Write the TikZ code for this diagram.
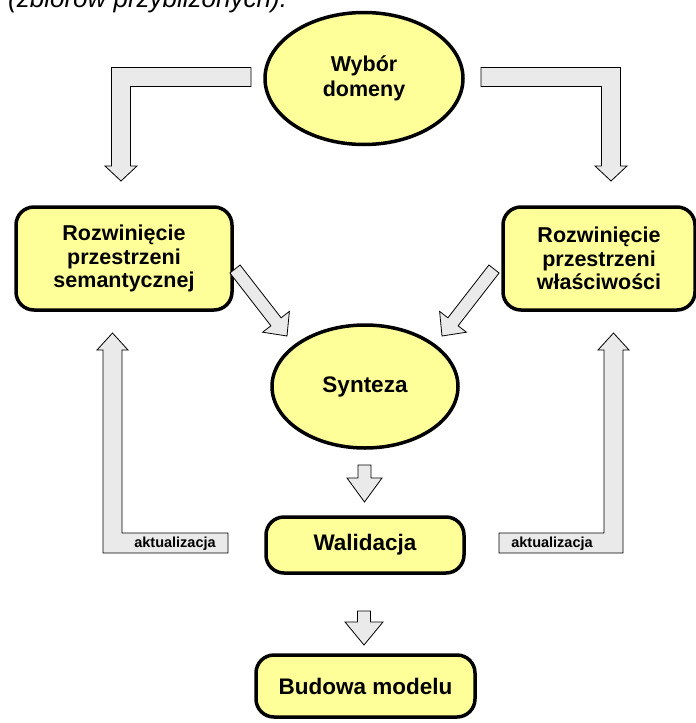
\documentclass[tikz,border=0pt]{standalone}
\usepackage{fontspec}
\setmainfont{Liberation Sans}
\usetikzlibrary{shapes.geometric}
\definecolor{nodeyellow}{HTML}{FFFF99}
\definecolor{blockgray}{HTML}{EAEAEA}
\tikzset{
  ellnode/.style={ellipse, draw=black, line width=3.5pt, fill=nodeyellow, inner sep=0pt,
    align=center, font=\bfseries\fontsize{21.5}{24.5}\selectfont},
  boxnode/.style={rectangle, rounded corners=18pt, draw=black, line width=3.5pt, fill=nodeyellow,
    inner sep=0pt, align=center, font=\bfseries\fontsize{21.5}{23.5}\selectfont},
  bigtext/.style={font=\bfseries\fontsize{22.5}{24}\selectfont},
  blockarrow/.style={draw=black, line width=0.8pt, fill=blockgray, line join=miter},
  lbl/.style={font=\bfseries\fontsize{14.5}{16}\selectfont, inner sep=0pt, anchor=base}
}
\begin{document}
\begin{tikzpicture}[x=1pt,y=-1pt]
\useasboundingbox (0,0) rectangle (696,723);
\fill[white] (0,0) rectangle (696,723);

% cut-off caption at the top (cut off in the reference too)
\node[anchor=base west, inner sep=0pt, font=\itshape\fontsize{26}{28}\selectfont] (cap) at (8,7) {(zbiorów przybliżonych).};

% nodes
\node[ellnode, minimum width=198pt, minimum height=132pt] (wybor) at (364,78.5) {Wybór\\domeny};
\node[boxnode, minimum width=216pt, minimum height=103pt] (sem) at (124,258.5) {Rozwinięcie\\przestrzeni\\semantycznej};
\node[boxnode, minimum width=192pt, minimum height=103pt] (wl) at (599,258.5) {Rozwinięcie\\przestrzeni\\właściwości};
\node[ellnode, bigtext, minimum width=186pt, minimum height=123pt] (synteza) at (365,386.5) {Synteza};
\node[boxnode, bigtext, minimum width=198pt, minimum height=56pt] (walid) at (365,545) {Walidacja};
\node[boxnode, bigtext, minimum width=219pt, minimum height=62pt] (budowa) at (365.5,686) {Budowa modelu};

% L-shaped arrows from Wybor domeny
\draw[blockarrow] (251,67.5) -- (111.5,67.5) -- (111.5,166) -- (105,166) -- (121,181) -- (137,166) -- (130.5,166) -- (130.5,86.5) -- (251,86.5) -- cycle;
\draw[blockarrow] (481,67.5) -- (620.5,67.5) -- (620.5,166) -- (627,166) -- (611,181) -- (595,166) -- (601.5,166) -- (601.5,86.5) -- (481,86.5) -- cycle;

% diagonal arrows into Synteza
\draw[blockarrow] (229.9,273.0) -- (240.1,265.0) -- (281.1,317.8) -- (289.4,311.4) -- (287,336) -- (262.6,332.2) -- (270.9,325.8) -- cycle;
\draw[blockarrow] (499.1,273.0) -- (488.9,265.0) -- (447.9,317.8) -- (439.6,311.4) -- (442,336) -- (466.4,332.2) -- (458.1,325.8) -- cycle;

% down arrows
\draw[blockarrow] (358,465) -- (371,465) -- (371,478) -- (382,478) -- (364.5,502) -- (347,478) -- (358,478) -- cycle;
\draw[blockarrow] (357.5,611) -- (370.5,611) -- (370.5,622) -- (383,622) -- (364,645) -- (345,622) -- (357.5,622) -- cycle;

% feedback arrows (aktualizacja)
\draw[blockarrow] (228,553) -- (103,553) -- (103,350) -- (97,350) -- (112.5,333) -- (128,350) -- (122,350) -- (122,533) -- (228,533) -- cycle;
\draw[blockarrow] (499,553) -- (623,553) -- (623,350) -- (629,350) -- (613.5,333) -- (598,350) -- (604,350) -- (604,533) -- (499,533) -- cycle;
\node[lbl] (akl) at (175,547.5) {aktualizacja};
\node[lbl] (akr) at (552,547.5) {aktualizacja};
\end{tikzpicture}
\end{document}
